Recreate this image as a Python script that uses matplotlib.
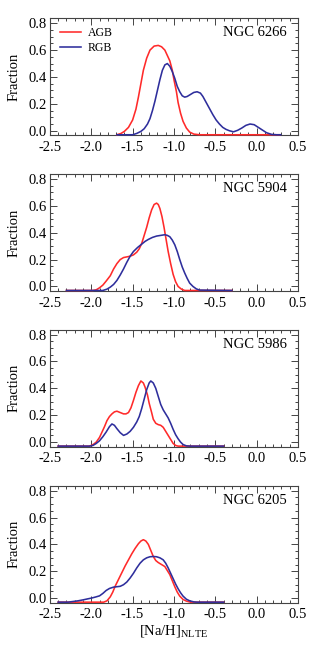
import matplotlib
matplotlib.use('Agg')
import matplotlib.pyplot as plt
from matplotlib.ticker import MultipleLocator, FormatStrFormatter

plt.rcParams['font.family'] = 'Liberation Serif'
plt.rcParams['mathtext.fontset'] = 'custom'
plt.rcParams['mathtext.rm'] = 'Liberation Serif'
plt.rcParams['axes.unicode_minus'] = False

clusters = ['NGC 6266', 'NGC 5904', 'NGC 5986', 'NGC 6205']

# NGC 6266
agb_6266_x = [-1.69, -1.64, -1.60, -1.55, -1.50, -1.46, -1.43, -1.40, -1.37, -1.33,
              -1.29, -1.24, -1.19, -1.15, -1.11, -1.08, -1.05, -1.02, -1.00, -0.97,
              -0.95, -0.92, -0.89, -0.85, -0.81, -0.76, -0.69, 0.28]
agb_6266_y = [-0.03, -0.02, -0.005, 0.025, 0.08, 0.16, 0.25, 0.35, 0.45, 0.54,
              0.60, 0.63, 0.635, 0.625, 0.60, 0.56, 0.52, 0.45, 0.38, 0.29,
              0.21, 0.13, 0.07, 0.02, -0.01, -0.025, -0.03, -0.03]
rgb_6266_x = [-1.69, -1.50, -1.45, -1.40, -1.36, -1.32, -1.29, -1.26, -1.23, -1.20,
              -1.17, -1.14, -1.11, -1.08, -1.05, -1.02, -0.99, -0.96, -0.93, -0.90,
              -0.87, -0.84, -0.80, -0.76, -0.72, -0.68, -0.65, -0.61, -0.57, -0.53,
              -0.49, -0.45, -0.41, -0.37, -0.33, -0.28, -0.23, -0.18, -0.13, -0.08,
              -0.03, 0.02, 0.07, 0.12, 0.18, 0.24, 0.29]
rgb_6266_y = [-0.03, -0.03, -0.02, -0.005, 0.015, 0.05, 0.09, 0.15, 0.22, 0.30,
              0.38, 0.45, 0.49, 0.50, 0.48, 0.44, 0.39, 0.33, 0.29, 0.26,
              0.25, 0.255, 0.27, 0.285, 0.29, 0.28, 0.255, 0.21, 0.165, 0.12,
              0.08, 0.05, 0.025, 0.01, 0.0, -0.008, 0.003, 0.02, 0.04, 0.05,
              0.045, 0.025, 0.005, -0.015, -0.027, -0.03, -0.03]

# NGC 5904
agb_5904_x = [-2.30, -1.98, -1.94, -1.90, -1.86, -1.82, -1.77, -1.73, -1.69, -1.65,
              -1.61, -1.57, -1.53, -1.49, -1.45, -1.42, -1.39, -1.36, -1.33, -1.30,
              -1.27, -1.24, -1.21, -1.19, -1.17, -1.145, -1.12, -1.095, -1.07, -1.04,
              -1.01, -0.98, -0.95, -0.91, -0.87, -0.30]
agb_5904_y = [-0.03, -0.03, -0.025, -0.01, 0.01, 0.04, 0.08, 0.13, 0.17, 0.20,
              0.215, 0.22, 0.225, 0.235, 0.255, 0.28, 0.32, 0.38, 0.44, 0.51,
              0.57, 0.61, 0.62, 0.61, 0.58, 0.52, 0.44, 0.35, 0.26, 0.17,
              0.09, 0.035, 0.0, -0.02, -0.03, -0.03]
rgb_5904_x = [-2.30, -1.86, -1.81, -1.77, -1.73, -1.69, -1.65, -1.61, -1.57, -1.53,
              -1.49, -1.44, -1.39, -1.35, -1.31, -1.26, -1.21, -1.16, -1.11, -1.08,
              -1.05, -1.02, -0.99, -0.96, -0.93, -0.90, -0.87, -0.84, -0.81, -0.77,
              -0.73, -0.69, -0.30]
rgb_5904_y = [-0.03, -0.03, -0.02, -0.005, 0.015, 0.045, 0.085, 0.13, 0.18, 0.225,
              0.26, 0.29, 0.315, 0.335, 0.35, 0.365, 0.375, 0.38, 0.385, 0.38,
              0.37, 0.345, 0.31, 0.26, 0.20, 0.145, 0.10, 0.06, 0.025, 0.0,
              -0.018, -0.027, -0.03]

# NGC 5986
agb_5986_x = [-2.40, -2.03, -2.00, -1.97, -1.94, -1.90, -1.87, -1.84, -1.81, -1.78,
              -1.75, -1.72, -1.69, -1.65, -1.61, -1.58, -1.55, -1.52, -1.49, -1.46,
              -1.43, -1.40, -1.37, -1.35, -1.32, -1.30, -1.27, -1.25, -1.22, -1.19,
              -1.16, -1.13, -1.10, -1.07, -1.04, -1.01, -0.98, -0.95, -0.40]
agb_5986_y = [-0.03, -0.03, -0.025, -0.015, 0.0, 0.035, 0.075, 0.115, 0.16, 0.19,
              0.21, 0.225, 0.23, 0.22, 0.21, 0.21, 0.22, 0.255, 0.31, 0.37,
              0.42, 0.455, 0.44, 0.41, 0.35, 0.29, 0.22, 0.17, 0.14, 0.13,
              0.125, 0.11, 0.08, 0.05, 0.02, -0.01, -0.025, -0.03, -0.03]
rgb_5986_x = [-2.40, -2.02, -1.98, -1.94, -1.90, -1.86, -1.82, -1.78, -1.75, -1.72,
              -1.69, -1.65, -1.61, -1.57, -1.53, -1.49, -1.45, -1.42, -1.39, -1.36,
              -1.33, -1.30, -1.28, -1.25, -1.22, -1.19, -1.16, -1.13, -1.10, -1.07,
              -1.04, -1.01, -0.98, -0.95, -0.92, -0.89, -0.85, -0.80, -0.40]
rgb_5986_y = [-0.03, -0.03, -0.025, -0.01, 0.01, 0.04, 0.075, 0.115, 0.135, 0.125,
              0.10, 0.07, 0.05, 0.06, 0.08, 0.11, 0.15, 0.19, 0.25, 0.32,
              0.39, 0.44, 0.455, 0.44, 0.40, 0.34, 0.28, 0.24, 0.21, 0.18,
              0.14, 0.095, 0.055, 0.025, 0.0, -0.018, -0.028, -0.03, -0.03]

# NGC 6205
agb_6205_x = [-2.40, -1.85, -1.81, -1.77, -1.74, -1.71, -1.67, -1.63, -1.59, -1.55,
              -1.51, -1.47, -1.43, -1.40, -1.37, -1.34, -1.31, -1.28, -1.25, -1.22,
              -1.19, -1.15, -1.11, -1.08, -1.05, -1.02, -0.99, -0.96, -0.93, -0.89,
              -0.85, -0.80, -0.40]
agb_6205_y = [-0.03, -0.03, -0.02, 0.01, 0.045, 0.09, 0.14, 0.19, 0.24, 0.285,
              0.33, 0.37, 0.405, 0.425, 0.435, 0.425, 0.40, 0.355, 0.31, 0.28,
              0.265, 0.25, 0.235, 0.205, 0.175, 0.13, 0.085, 0.045, 0.015, -0.01,
              -0.022, -0.03, -0.03]
rgb_6205_x = [-2.40, -2.28, -2.22, -2.16, -2.10, -2.04, -2.00, -1.95, -1.90, -1.86,
              -1.82, -1.78, -1.73, -1.69, -1.65, -1.61, -1.57, -1.53, -1.49, -1.45,
              -1.41, -1.37, -1.33, -1.29, -1.25, -1.21, -1.17, -1.13, -1.10, -1.07,
              -1.04, -1.01, -0.98, -0.95, -0.92, -0.89, -0.85, -0.81, -0.76, -0.72,
              -0.40]
rgb_6205_y = [-0.03, -0.03, -0.025, -0.02, -0.013, -0.005, 0.0, 0.008, 0.017, 0.035,
              0.057, 0.072, 0.082, 0.085, 0.088, 0.10, 0.12, 0.15, 0.185, 0.225,
              0.26, 0.285, 0.30, 0.308, 0.31, 0.308, 0.30, 0.285, 0.26, 0.225,
              0.185, 0.145, 0.105, 0.07, 0.04, 0.015, -0.008, -0.02, -0.028, -0.03,
              -0.03]

agb_x = [agb_6266_x, agb_5904_x, agb_5986_x, agb_6205_x]
agb_y = [agb_6266_y, agb_5904_y, agb_5986_y, agb_6205_y]
rgb_x = [rgb_6266_x, rgb_5904_x, rgb_5986_x, rgb_6205_x]
rgb_y = [rgb_6266_y, rgb_5904_y, rgb_5986_y, rgb_6205_y]

red = '#ff2a2a'
blue = '#2e2e9c'
edge = '#444444'

fig = plt.figure(figsize=(3.16, 6.48), dpi=100)
bottoms = [0.7912, 0.5509, 0.3107, 0.0699]

for i, name in enumerate(clusters):
    ax = fig.add_axes([0.158, bottoms[i], 0.785, 0.1806])
    ax.plot(agb_x[i], agb_y[i], color=red, lw=1.15, label='AGB', clip_on=False, zorder=3)
    ax.plot(rgb_x[i], rgb_y[i], color=blue, lw=1.15, label='RGB', clip_on=False, zorder=4)
    ax.set_xlim(-2.5, 0.5)
    ax.set_ylim(-0.034, 0.837)
    ax.xaxis.set_major_locator(MultipleLocator(0.5))
    ax.xaxis.set_minor_locator(MultipleLocator(0.1))
    ax.yaxis.set_major_locator(MultipleLocator(0.2))
    ax.yaxis.set_minor_locator(MultipleLocator(0.05))
    ax.xaxis.set_major_formatter(FormatStrFormatter('%.1f'))
    ax.yaxis.set_major_formatter(FormatStrFormatter('%.1f'))
    ax.tick_params(which='both', direction='in', top=True, right=True,
                   color=edge, labelsize=10.5, width=0.7)
    ax.tick_params(which='major', length=5, pad=4)
    ax.tick_params(which='minor', length=2.5)
    ax.tick_params(axis='y', pad=2)
    for s in ax.spines.values():
        s.set_color(edge)
        s.set_linewidth(0.8)
    ax.set_ylabel('Fraction', fontsize=10.5, labelpad=6)
    ax.text(0.955, 0.875, name, transform=ax.transAxes, ha='right', va='center',
            fontsize=10.5)
    if i == 0:
        ax.legend(loc='center left', bbox_to_anchor=(0.02, 0.81), frameon=False,
                  fontsize=8.5, handlelength=1.8, handletextpad=0.6,
                  labelspacing=0.25, borderaxespad=0)
    if i == 3:
        ax.set_xlabel(r'[Na/H]$_{\rm NLTE}$', fontsize=10.5, labelpad=2)

fig.savefig('out.png', dpi=100)
